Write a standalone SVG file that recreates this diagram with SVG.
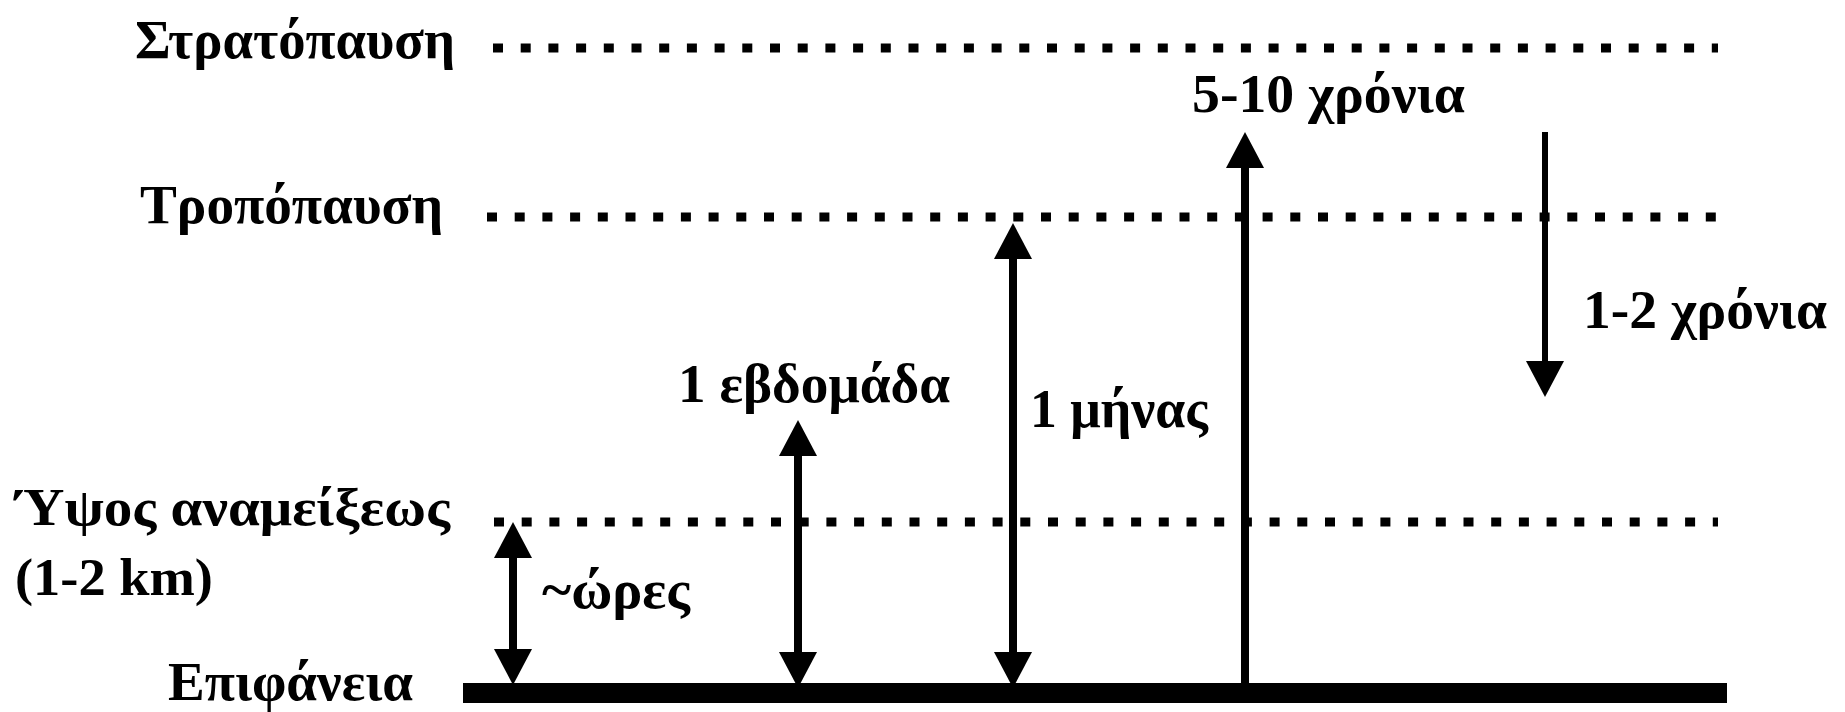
<svg xmlns="http://www.w3.org/2000/svg" width="1845" height="712" viewBox="0 0 1845 712">
<style>
.lbl{font-family:"Liberation Serif","Times New Roman",serif;font-weight:bold;font-size:55px;fill:#000}
.sm{font-size:52px}
.dot{stroke:#000;stroke-width:9;stroke-dasharray:10 17.7;fill:none}
.arr{stroke:#000;stroke-width:8;fill:none}
.thin{stroke:#000;stroke-width:6;fill:none}
</style>
<defs>
<marker id="head" viewBox="0 -20 36 40" refX="0" refY="0" markerWidth="36" markerHeight="40" markerUnits="userSpaceOnUse" orient="auto-start-reverse">
<path d="M0,-19 L36,0 L0,19 z" fill="#000"/>
</marker>
</defs>
<rect width="1845" height="712" fill="#fff"/>
<g id="levels">
<line class="dot" x1="493" y1="48" x2="1718" y2="48"/>
<line class="dot" x1="487" y1="217" x2="1718" y2="217"/>
<line class="dot" x1="494" y1="522" x2="1718" y2="522"/>
<rect id="ground" x="463" y="683" width="1264" height="20" fill="#000"/>
</g>
<g id="label-stratopause"><text class="lbl" x="135" y="58" textLength="320" lengthAdjust="spacingAndGlyphs">Στρατόπαυση</text></g>
<g id="label-tropopause"><text class="lbl" x="140" y="223" textLength="303" lengthAdjust="spacingAndGlyphs">Τροπόπαυση</text></g>
<g id="label-mixing"><text class="lbl sm" x="15" y="525" textLength="435" lengthAdjust="spacingAndGlyphs">Ύψος αναμείξεως</text>
<text class="lbl sm" x="15" y="595" textLength="198" lengthAdjust="spacingAndGlyphs">(1-2 km)</text></g>
<g id="label-surface"><text class="lbl" x="168" y="700" textLength="245" lengthAdjust="spacingAndGlyphs">Επιφάνεια</text></g>
<g id="connectors">
<line class="arr" x1="513" y1="558" x2="513" y2="649" marker-start="url(#head)" marker-end="url(#head)"/>
<line class="arr" x1="798" y1="456" x2="798" y2="652" marker-start="url(#head)" marker-end="url(#head)"/>
<line class="arr" x1="1013" y1="259" x2="1013" y2="652" marker-start="url(#head)" marker-end="url(#head)"/>
<line class="arr" x1="1245" y1="684" x2="1245" y2="168" marker-end="url(#head)"/>
<line class="thin" x1="1545" y1="132" x2="1545" y2="361" marker-end="url(#head)"/>
</g>
<g id="label-hours"><text class="lbl" x="542" y="608" textLength="148" lengthAdjust="spacingAndGlyphs">~ώρες</text></g>
<g id="label-week"><text class="lbl" x="678" y="402" textLength="272" lengthAdjust="spacingAndGlyphs">1 εβδομάδα</text></g>
<g id="label-month"><text class="lbl" x="1030" y="427" textLength="178" lengthAdjust="spacingAndGlyphs">1 μήνας</text></g>
<g id="label-5-10"><text class="lbl" x="1192" y="112" textLength="273" lengthAdjust="spacingAndGlyphs">5-10 χρόνια</text></g>
<g id="label-1-2"><text class="lbl" x="1583" y="328" textLength="244" lengthAdjust="spacingAndGlyphs">1-2 χρόνια</text></g>
</svg>
